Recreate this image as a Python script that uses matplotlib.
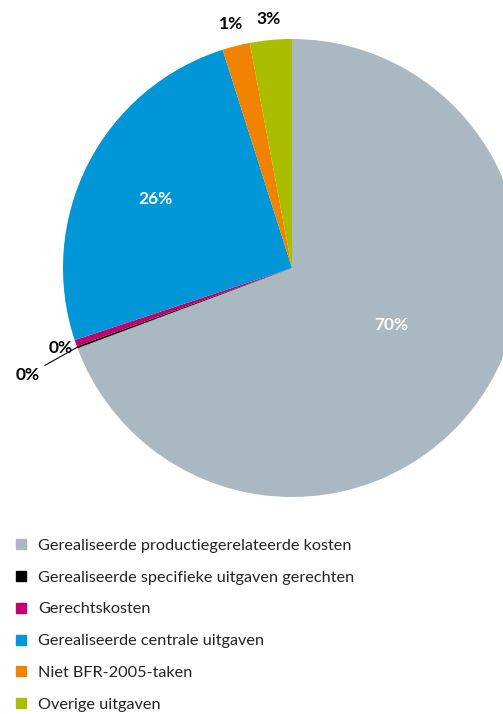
import matplotlib.pyplot as plt
from matplotlib.lines import Line2D
import numpy as np

plt.rcParams['font.family'] = ['Lato', 'DejaVu Sans']

categories = ['Gerealiseerde productiegerelateerde kosten',
              'Gerealiseerde specifieke uitgaven gerechten',
              'Gerechtskosten',
              'Gerealiseerde centrale uitgaven',
              'Niet BFR-2005-taken',
              'Overige uitgaven']
shares = [69.3, 0.15, 0.45, 25.2, 1.95, 2.95]
pct_labels = ['70%', '0%', '0%', '26%', '1%', '3%']
colors = ['#aab9c1', '#000000', '#c4006f', '#0096d8', '#f08300', '#abbd00']

# label placement: radius fraction, angle shift (deg) and colour per slice
label_r = [0.5, 1.246, 1.07, 0.668, 1.099, 1.09]
label_dang = [5.0, 1.8, 0.0, 0.0, 0.0, 0.0]
label_c = ['white', 'black', 'black', 'white', 'black', 'black']

fig = plt.figure(figsize=(5.03, 7.14), dpi=100)
ax = fig.add_axes([63/503, 217/714, 458/503, 458/714])
wedges, _ = ax.pie(shares, colors=colors, startangle=90, counterclock=False,
                   radius=1.0, wedgeprops=dict(linewidth=0))
ax.set_xlim(-1, 1)
ax.set_ylim(-1, 1)
ax.set_aspect('equal')
ax.axis('off')

for i, w in enumerate(wedges):
    ang = np.deg2rad((w.theta1 + w.theta2) / 2)
    x, y = np.cos(ang), np.sin(ang)
    r = label_r[i]
    ang2 = ang + np.deg2rad(label_dang[i])
    if i == 1:
        # tiny slice, label pulled out with a leader line
        ax.annotate(pct_labels[i], xy=(x, y),
                    xytext=(r*np.cos(ang2), r*np.sin(ang2)),
                    ha='center', va='center', fontsize=12.5, fontweight='bold',
                    color=label_c[i], annotation_clip=False,
                    arrowprops=dict(arrowstyle='-', color='black', lw=0.8,
                                    shrinkA=2, shrinkB=0))
    else:
        ax.text(r*np.cos(ang2), r*np.sin(ang2), pct_labels[i], ha='center',
                va='center', fontsize=12.5, fontweight='bold',
                color=label_c[i], clip_on=False)

handles = [Line2D([], [], marker='s', linestyle='none', markersize=7.9,
                  markerfacecolor=c, markeredgecolor=c) for c in colors]
fig.legend(handles, categories, loc='upper left', bbox_to_anchor=(0.028, 0.246),
           frameon=False, handlelength=0.83, handletextpad=0.65,
           labelspacing=1.075, borderaxespad=0, borderpad=0, labelcolor='#222222',
           prop=dict(family=['Lato', 'DejaVu Sans'], weight='normal', size=11.7))

fig.savefig('out.png', dpi=100)
